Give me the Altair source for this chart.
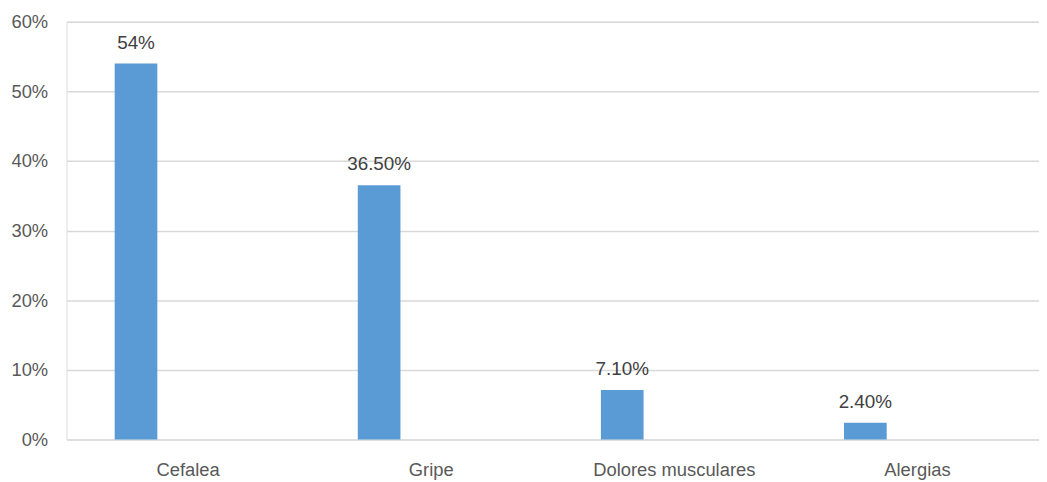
import altair as alt
import pandas as pd

categories = ["Cefalea", "Gripe", "Dolores musculares", "Alergias"]
values = [0.54, 0.365, 0.071, 0.024]
value_labels = ["54%", "36.50%", "7.10%", "2.40%"]
y_ticks = [0, 0.1, 0.2, 0.3, 0.4, 0.5, 0.6]

df = pd.DataFrame({"cat": categories, "val": values, "lab": value_labels})

FONT = "Liberation Sans"
x_enc = alt.X("cat:N", sort=categories, title=None,
              scale=alt.Scale(paddingInner=0, paddingOuter=0),
              axis=alt.Axis(labelAngle=0, ticks=False, tickSize=0, domain=False,
                            labelPadding=36, labelBaseline="alphabetic",
                            labelFontSize=18.5, labelColor="#595959", labelFont=FONT))
y_enc = alt.Y("val:Q", title=None,
              scale=alt.Scale(domain=[0, 0.6], nice=False),
              axis=alt.Axis(values=y_ticks, format=".0%", ticks=False, tickSize=0,
                            domain=False, grid=True, gridColor="#d9d9d9",
                            gridWidth=1.5, labelPadding=19, labelFontSize=18.5,
                            labelColor="#595959", labelFont=FONT))

bars = alt.Chart(df).mark_bar(size=43, xOffset=-52.5, color="#5b9bd5").encode(
    x=x_enc, y=y_enc)

texts = alt.Chart(df).mark_text(xOffset=-52.5, dy=-21, baseline="middle",
                                fontSize=19, font=FONT, color="#404040").encode(
    x=alt.X("cat:N", sort=categories),
    y=alt.Y("val:Q"),
    text="lab:N")

chart = (bars + texts).properties(
    width=980, height=421,
    autosize=alt.AutoSizeParams(type="none"),
    padding={"left": 59, "top": 12, "right": 0, "bottom": 40},
).configure_view(stroke=None).configure(background="white")

chart.save("out.html", embed_options={"renderer": "svg", "actions": False})
